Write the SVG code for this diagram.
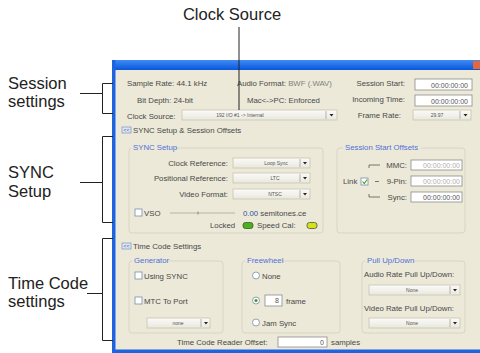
<svg xmlns="http://www.w3.org/2000/svg" width="480" height="353" viewBox="0 0 480 353">
<defs>
<linearGradient id="tb" x1="0" y1="0" x2="0" y2="1">
<stop offset="0" stop-color="#3D8CF6"/><stop offset="1" stop-color="#0A56DA"/>
</linearGradient>
<linearGradient id="dd" x1="0" y1="0" x2="0" y2="1">
<stop offset="0" stop-color="#FBFBF8"/><stop offset="1" stop-color="#E9E7DE"/>
</linearGradient>
</defs>
<style>
.ann{font-family:"Liberation Sans",Arial,sans-serif;font-size:16.5px;fill:#222}
.t{font-family:"Liberation Sans",Arial,sans-serif;font-size:7.8px;fill:#484848}
.e{text-anchor:end}
.c{text-anchor:middle}
.hd{font-family:"Liberation Sans",Arial,sans-serif;font-size:7.8px;fill:#5070D8}
.v{font-family:"Liberation Sans",Arial,sans-serif;font-size:5px;fill:#555;text-anchor:middle}
.f{font-family:"Liberation Sans",Arial,sans-serif;font-size:7px;fill:#555;text-anchor:end}
.fg{font-family:"Liberation Sans",Arial,sans-serif;font-size:7px;fill:#b0b0b0;text-anchor:end}
.box{fill:#fff;stroke:#8c8c8c;stroke-width:0.8}
.drop{fill:url(#dd);stroke:#C8C4B2;stroke-width:0.8}
.sep{stroke:#9a9a9a;stroke-width:0.7}
.arr{fill:#222}
.grp{fill:none;stroke:#D8D5C7;stroke-width:1}
.lbg{fill:#ECE9D8}
.cb{fill:#fff;stroke:#7a8ea8;stroke-width:0.8}
.rd{fill:#fff;stroke:#7a8ea8;stroke-width:0.8}
.conn{stroke:#222;stroke-width:1;fill:none}
.icon{fill:#DCE6F5;stroke:#7D93B8;stroke-width:0.7}
</style>

<g id="lbl-clock"><text class="ann c" x="232" y="20">Clock Source</text></g>
<g id="lbl-session"><text class="ann" x="8" y="89">Session</text><text class="ann" x="8" y="107">settings</text></g>
<g id="lbl-sync"><text class="ann" x="8" y="178">SYNC</text><text class="ann" x="8" y="197">Setup</text></g>
<g id="lbl-tc"><text class="ann" x="8" y="289">Time Code</text><text class="ann" x="8" y="307">settings</text></g>

<g id="window">
<rect x="112" y="60" width="368" height="293" fill="#ECE9D8"/>
<rect x="112" y="60" width="368" height="10" fill="url(#tb)"/>
<rect x="112" y="60" width="3.5" height="293" fill="#1E63E0"/>
<rect x="112" y="349.5" width="368" height="3.5" fill="#1E63E0"/>
<rect x="473" y="61" width="7" height="8" fill="#E2663E"/>
</g>

<g id="session">
<text class="t" x="127" y="86">Sample Rate: 44.1 kHz</text>
<text class="t" x="137" y="103">Bit Depth: 24-bit</text>
<text class="t" x="127" y="119">Clock Source:</text>
<text class="t" x="237" y="86">Audio Format: <tspan fill="#808080">BWF (.WAV)</tspan></text>
<text class="t" x="247" y="103">Mac&lt;-&gt;PC: Enforced</text>
<text class="t e" x="405" y="86">Session Start:</text>
<text class="t e" x="405" y="102">Incoming Time:</text>
<text class="t e" x="401" y="118">Frame Rate:</text>
<rect class="box" x="415" y="79" width="57" height="11"/>
<text class="f" x="468" y="87.5">00:00:00:00</text>
<rect class="box" x="415" y="95" width="57" height="11"/>
<text class="f" x="468" y="103.5">00:00:00:00</text>
<rect class="drop" x="413" y="110" width="58" height="10"/>
<text class="v" x="437" y="117">29.97</text>
<line class="sep" x1="460" y1="111" x2="460" y2="119"/>
<path class="arr" d="M463.5 114 h4 l-2 2.5 z"/>
<rect class="drop" x="182" y="110" width="155" height="10"/>
<text class="v" x="240" y="117">192 I/O #1 -&gt; Internal</text>
<line class="sep" x1="326" y1="111" x2="326" y2="119"/>
<path class="arr" d="M329.5 114 h4 l-2 2.5 z"/>
</g>

<g id="sync-header">
<rect class="icon" x="122" y="127" width="9" height="6"/>
<text x="126.5" y="132" font-family="Liberation Sans,sans-serif" font-size="5" fill="#35507d" text-anchor="middle">&lt;&lt;</text>
<text class="t" x="133" y="133">SYNC Setup &amp; Session Offsets</text>
</g>

<g id="sync-setup">
<rect class="grp" x="129" y="148" width="194" height="85" rx="3"/>
<rect class="lbg" x="131" y="144" width="44" height="8"/>
<text class="hd" x="133" y="150">SYNC Setup</text>
<text class="t e" x="228" y="166">Clock Reference:</text>
<text class="t e" x="228" y="181">Positional Reference:</text>
<text class="t e" x="228" y="197">Video Format:</text>
<rect class="drop" x="233" y="158" width="77" height="10"/>
<text class="v" x="276" y="165">Loop Sync</text>
<line class="sep" x1="300" y1="159" x2="300" y2="167"/>
<path class="arr" d="M303 162 h4 l-2 2.5 z"/>
<rect class="drop" x="233" y="173" width="77" height="10"/>
<text class="v" x="275" y="180">LTC</text>
<line class="sep" x1="300" y1="174" x2="300" y2="182"/>
<path class="arr" d="M303 177 h4 l-2 2.5 z"/>
<rect class="drop" x="233" y="189" width="77" height="10"/>
<text class="v" x="275" y="196">NTSC</text>
<line class="sep" x1="300" y1="190" x2="300" y2="198"/>
<path class="arr" d="M303 193 h4 l-2 2.5 z"/>
<rect class="cb" x="135" y="209" width="7" height="7"/>
<text class="t" x="144" y="215.5">VSO</text>
<line x1="170" y1="213" x2="235" y2="213" stroke="#a8a69a" stroke-width="0.8"/>
<line x1="198" y1="211.5" x2="198" y2="214.5" stroke="#777" stroke-width="0.8"/>
<text class="t" x="243" y="215.5"><tspan fill="#3550A8">0.00</tspan> semitones.ce</text>
<text class="t" x="210" y="228">Locked</text>
<rect x="243" y="222.5" width="10" height="6" rx="2.5" fill="#4DB020" stroke="#3a5a2a" stroke-width="0.8"/>
<text class="t" x="257" y="228">Speed Cal:</text>
<rect x="307" y="222.5" width="10" height="6" rx="2.5" fill="#D6E020" stroke="#4a5a2a" stroke-width="0.8"/>
</g>

<g id="session-offsets">
<rect class="grp" x="337" y="148" width="128" height="85" rx="3"/>
<rect class="lbg" x="343" y="144" width="78" height="8"/>
<text class="hd" x="345" y="150">Session Start Offsets</text>
<text class="t e" x="407" y="168">MMC:</text>
<text class="t e" x="407" y="184">9-Pin:</text>
<text class="t e" x="407" y="200">Sync:</text>
<rect class="box" x="411" y="160" width="51" height="10"/>
<text class="fg" x="460" y="167.5">00:00:00:00</text>
<rect class="box" x="411" y="176" width="51" height="10"/>
<text class="fg" x="460" y="183.5">00:00:00:00</text>
<rect class="box" x="411" y="192" width="51" height="10"/>
<text class="f" x="460" y="199.5">00:00:00:00</text>
<text class="t" x="343" y="184">Link</text>
<rect class="cb" x="361" y="178" width="7" height="7"/>
<path d="M362.5 181.5 l1.8 2 l2.8 -4" stroke="#3aa020" stroke-width="1.1" fill="none"/>
<line x1="375" y1="181.5" x2="379" y2="181.5" stroke="#555" stroke-width="0.8"/>
<path d="M369 168 v-3 h11" stroke="#555" stroke-width="0.8" fill="none"/>
<path d="M369 194 v3 h11" stroke="#555" stroke-width="0.8" fill="none"/>
</g>

<g id="tc-header">
<rect class="icon" x="122" y="243" width="9" height="6"/>
<text x="126.5" y="248" font-family="Liberation Sans,sans-serif" font-size="5" fill="#35507d" text-anchor="middle">&lt;&lt;</text>
<text class="t" x="133" y="249">Time Code Settings</text>
</g>

<g id="generator">
<rect class="grp" x="129" y="261" width="94" height="72" rx="3"/>
<rect class="lbg" x="132" y="257" width="37" height="8"/>
<text class="hd" x="134" y="263">Generator</text>
<rect class="cb" x="135" y="272" width="7" height="7"/>
<text class="t" x="144" y="278.5">Using SYNC</text>
<rect class="cb" x="135" y="297" width="7" height="7"/>
<text class="t" x="144" y="303.5">MTC To Port</text>
<rect class="drop" x="147" y="318" width="63" height="10"/>
<text class="v" x="178" y="325">none</text>
<line class="sep" x1="201" y1="319" x2="201" y2="327"/>
<path class="arr" d="M204 322 h4 l-2 2.5 z"/>
</g>

<g id="freewheel">
<rect class="grp" x="242" y="261" width="98" height="72" rx="3"/>
<rect class="lbg" x="245" y="257" width="37" height="8"/>
<text class="hd" x="247" y="263">Freewheel</text>
<circle class="rd" cx="256" cy="275.5" r="3.5"/>
<text class="t" x="262" y="278.5">None</text>
<circle class="rd" cx="256" cy="300.5" r="3.5"/>
<circle cx="256" cy="300.5" r="1.6" fill="#3aa020"/>
<rect class="box" x="265" y="295" width="17" height="11"/>
<text class="f" x="279" y="303">8</text>
<text class="t" x="286" y="303.5">frame</text>
<circle class="rd" cx="256" cy="322.5" r="3.5"/>
<text class="t" x="262" y="325.5">Jam Sync</text>
</g>

<g id="pullupdown">
<rect class="grp" x="362" y="261" width="103" height="72" rx="3"/>
<rect class="lbg" x="365" y="257" width="49" height="8"/>
<text class="hd" x="367" y="263">Pull Up/Down</text>
<text class="t" x="364" y="276.5">Audio Rate Pull Up/Down:</text>
<rect class="drop" x="369" y="285" width="91" height="10"/>
<text class="v" x="412" y="292">None</text>
<line class="sep" x1="450" y1="286" x2="450" y2="294"/>
<path class="arr" d="M453 289 h4 l-2 2.5 z"/>
<text class="t" x="364" y="311">Video Rate Pull Up/Down:</text>
<rect class="drop" x="369" y="318" width="91" height="10"/>
<text class="v" x="412" y="325">None</text>
<line class="sep" x1="450" y1="319" x2="450" y2="327"/>
<path class="arr" d="M453 322 h4 l-2 2.5 z"/>
</g>

<g id="reader-offset">
<text class="t" x="177" y="344.5">Time Code Reader Offset:</text>
<rect class="box" x="278" y="337" width="49" height="10"/>
<text class="f" x="324" y="344.5">0</text>
<text class="t" x="331" y="344.5">samples</text>
</g>

<g id="connectors">
<line class="conn" x1="239" y1="27" x2="239" y2="110"/>
<path class="conn" d="M113 83.5 H102.5 V113.5 H113"/>
<line class="conn" x1="80" y1="93.5" x2="102.5" y2="93.5"/>
<path class="conn" d="M113 136.5 H102.5 V222.5 H113"/>
<line class="conn" x1="80" y1="182.5" x2="102.5" y2="182.5"/>
<path class="conn" d="M113 238.5 H102.5 V340.5 H113"/>
<line class="conn" x1="87" y1="293.5" x2="102.5" y2="293.5"/>
</g>
</svg>
